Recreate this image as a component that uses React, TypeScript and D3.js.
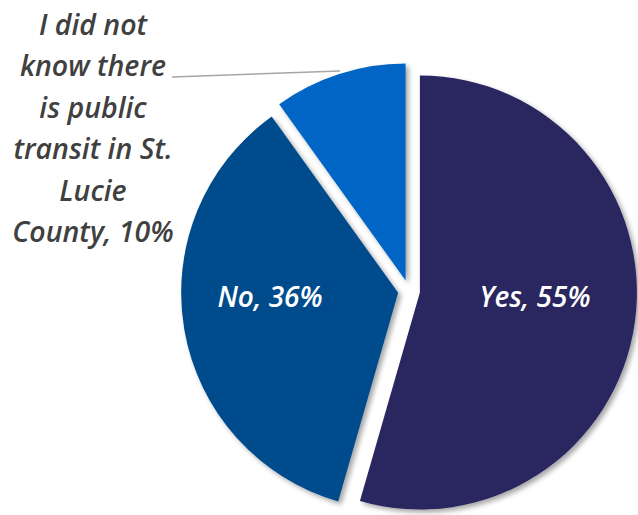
import React from "react";
import * as d3 from "d3";

const categories = ["Yes", "No", "I did not know there is public transit in St. Lucie County"];
const values = [55, 36, 10];
const colors = ["#2a255e", "#054b8c", "#0665c4"];
const outsideLabelLines = ["I did not", "know there", "is public", "transit in St.", "Lucie", "County, 10%"];

export default function App() {
  const W = 638, H = 515;
  const cx = 409, cy = 291, r = 217, explode = 11;
  const pie = d3.pie<number>().sort(null).startAngle(0).endAngle(2 * Math.PI);
  const arcs = pie(values);
  const arcGen = d3.arc<d3.PieArcDatum<number>>().innerRadius(0).outerRadius(r);
  const font = "'Open Sans', Lato, sans-serif";
  const labelPos = [535, 270];
  return (
    <svg width={W} height={H} style={{ position: "absolute", left: 0, top: 0, display: "block" }}>
      <defs>
        <filter id="sh" x="-20%" y="-20%" width="140%" height="140%">
          <feDropShadow dx="3" dy="3" stdDeviation="2.5" floodColor="#000" floodOpacity="0.35" />
        </filter>
      </defs>
      {arcs.map((a, i) => {
        const mid = (a.startAngle + a.endAngle) / 2;
        const ox = Math.sin(mid) * explode;
        const oy = -Math.cos(mid) * explode;
        return (
          <g key={i} transform={`translate(${cx + ox},${cy + oy})`}>
            <path d={arcGen(a) || ""} fill={colors[i]} filter="url(#sh)" />
          </g>
        );
      })}
      <line x1={172} y1={77} x2={340} y2={71} stroke="#a6a6a6" strokeWidth={1.5} />
      {arcs.slice(0, 2).map((a, i) => (
        <text key={i} x={labelPos[i]} y={307} textAnchor="middle"
          fill="#fff" fontFamily={font} fontStyle="italic" fontWeight={600} fontSize={28}>
          {`${categories[i]}, ${values[i]}%`}
        </text>
      ))}
      <text fill="#404040" fontFamily={font} fontStyle="italic" fontWeight={600} fontSize={28.5} textAnchor="middle">
        {outsideLabelLines.map((l, i) => (
          <tspan key={i} x={93} y={35 + i * 41.4}>{l}</tspan>
        ))}
      </text>
    </svg>
  );
}
